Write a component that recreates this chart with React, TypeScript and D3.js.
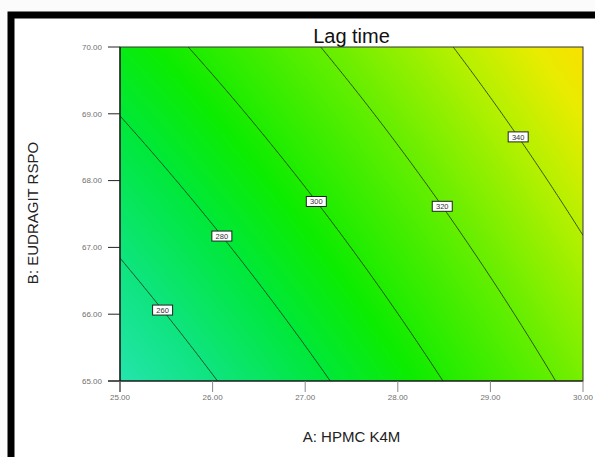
import React, { useMemo } from "react";
import * as d3 from "d3";

// Axis ranges and ticks
const xTicks = [25, 26, 27, 28, 29, 30];
const yTicks = [65, 66, 67, 68, 69, 70];
const xDomain = [25, 30];
const yDomain = [65, 70];

// Lag time = c0 + cA*(A-25) + cB*(B-65) + cAB*(A-25)*(B-65)
const c0 = 242.7;
const cA = 16.43;
const cB = 9.4;
const cAB = -0.49;

// Contour levels and where their labels sit (A value)
const levels = [260, 280, 300, 320, 340];
const labelA = [25.46, 26.1, 27.12, 28.48, 29.3];

// Colour map stops (response value -> colour)
const colorValues = [243, 260, 280, 295, 320, 340, 352, 362];
const colorStops = [
  "rgb(36,228,172)",
  "rgb(14,228,126)",
  "rgb(0,232,56)",
  "rgb(12,236,0)",
  "rgb(100,238,0)",
  "rgb(182,240,0)",
  "rgb(232,236,0)",
  "rgb(255,220,0)",
];

const W = 595;
const H = 457;
const PX0 = 120, PX1 = 583, PY0 = 47, PY1 = 381;

function model(a: number, b: number) {
  const da = a - 25, db = b - 65;
  return c0 + cA * da + cB * db + cAB * da * db;
}

export default function App() {
  const x = d3.scaleLinear().domain(xDomain).range([PX0, PX1]);
  const y = d3.scaleLinear().domain(yDomain).range([PY1, PY0]);
  const color = d3.scaleLinear<string>().domain(colorValues).range(colorStops).clamp(true);

  const pw = PX1 - PX0, ph = PY1 - PY0;

  const imgUrl = useMemo(() => {
    const cv = document.createElement("canvas");
    cv.width = pw;
    cv.height = ph;
    const ctx = cv.getContext("2d")!;
    const img = ctx.createImageData(pw, ph);
    for (let j = 0; j < ph; j++) {
      for (let i = 0; i < pw; i++) {
        const a = x.invert(PX0 + i + 0.5);
        const b = y.invert(PY0 + j + 0.5);
        const c = d3.rgb(color(model(a, b)));
        const k = (j * pw + i) * 4;
        img.data[k] = c.r;
        img.data[k + 1] = c.g;
        img.data[k + 2] = c.b;
        img.data[k + 3] = 255;
      }
    }
    ctx.putImageData(img, 0, 0);
    return cv.toDataURL();
  }, []);

  // contour line per level: solve B for each A
  const linePaths = levels.map((lv) => {
    const pts: [number, number][] = [];
    for (let t = 0; t <= 400; t++) {
      const a = xDomain[0] + (t / 400) * (xDomain[1] - xDomain[0]);
      const da = a - 25;
      const db = (lv - c0 - cA * da) / (cB + cAB * da);
      const b = 65 + db;
      if (b >= 64.9 && b <= 70.1) pts.push([x(a), y(b)]);
    }
    return d3.line()(pts) || "";
  });

  const labels = levels.map((lv, i) => {
    const a = labelA[i];
    const da = a - 25;
    const b = 65 + (lv - c0 - cA * da) / (cB + cAB * da);
    return { lv, px: x(a), py: y(b) };
  });

  return (
    <svg width={W} height={H} style={{ position: "absolute", left: 0, top: 0, background: "#fff" }}
      fontFamily="Arial, 'Liberation Sans', sans-serif">
      <rect x={0} y={0} width={W} height={H} fill="#fbfbfb" />
      <rect x={11} y={15} width={W} height={H} fill="#fff" stroke="#000" strokeWidth={7} />
      <text x={(PX0 + PX1) / 2} y={43} textAnchor="middle" fontSize={20} fill="#111">Lag time</text>
      <clipPath id="pc"><rect x={PX0} y={PY0} width={pw} height={ph} /></clipPath>
      <image href={imgUrl} x={PX0} y={PY0} width={pw} height={ph} preserveAspectRatio="none" />
      <g clipPath="url(#pc)">
        {linePaths.map((d, i) => (
          <path key={i} d={d} fill="none" stroke="#1a2a1a" strokeOpacity={0.8} strokeWidth={1} />
        ))}
      </g>
      <rect x={PX0} y={PY0} width={pw} height={ph} fill="none" stroke="#333" strokeWidth={1} />
      <line x1={PX0} x2={PX0} y1={PY0} y2={PY1 + 11} stroke="#111" strokeWidth={1.2} />
      <line x1={PX0 - 12} x2={PX1} y1={PY1} y2={PY1} stroke="#111" strokeWidth={1.2} />
      {yTicks.map((t) => (
        <g key={"y" + t}>
          <line x1={PX0 - 12} x2={PX0} y1={y(t)} y2={y(t)} stroke="#222" strokeWidth={1} />
          <text x={PX0 - 18} y={y(t) + 2.8} textAnchor="end" fontSize={8} fill="#707070">{t.toFixed(2)}</text>
        </g>
      ))}
      {xTicks.map((t) => (
        <g key={"x" + t}>
          <line x1={x(t)} x2={x(t)} y1={PY1} y2={PY1 + 11} stroke="#888" strokeWidth={1} />
          <text x={x(t)} y={PY1 + 19} textAnchor="middle" fontSize={8} fill="#707070">{t.toFixed(2)}</text>
        </g>
      ))}
      {labels.map((l) => (
        <g key={"l" + l.lv}>
          <rect x={l.px - 10} y={l.py - 5} width={20} height={10} fill="#fff" stroke="#222" strokeWidth={1} />
          <text x={l.px} y={l.py + 2.7} textAnchor="middle" fontSize={7.5} fill="#333">{l.lv}</text>
        </g>
      ))}
      <text x={(PX0 + PX1) / 2} y={442} textAnchor="middle" fontSize={15} fill="#222">A: HPMC K4M</text>
      <text transform={`translate(38,213) rotate(-90)`} textAnchor="middle" fontSize={15} fill="#222">B: EUDRAGIT RSPO</text>
    </svg>
  );
}
